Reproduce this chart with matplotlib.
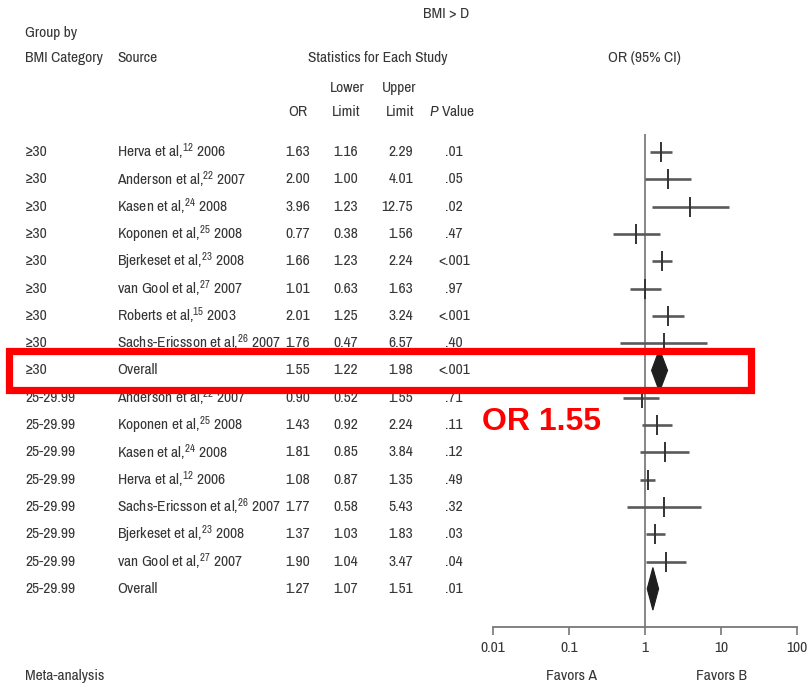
import matplotlib
matplotlib.use("Agg")
import matplotlib.pyplot as plt
import matplotlib.transforms as mtransforms
from matplotlib import font_manager
from matplotlib.patches import Polygon, Rectangle
import numpy as np

# ---------------- data ----------------
groups = ['≥30'] * 9 + ['25-29.99'] * 8
names = ['Herva et al,', 'Anderson et al,', 'Kasen et al,', 'Koponen et al,',
         'Bjerkeset et al,', 'van Gool et al,', 'Roberts et al,',
         'Sachs-Ericsson et al,', 'Overall',
         'Anderson et al,', 'Koponen et al,', 'Kasen et al,', 'Herva et al,',
         'Sachs-Ericsson et al,', 'Bjerkeset et al,', 'van Gool et al,', 'Overall']
refs = ['12', '22', '24', '25', '23', '27', '15', '26', '',
        '22', '25', '24', '12', '26', '23', '27', '']
years = ['2006', '2007', '2008', '2008', '2008', '2007', '2003', '2007', '',
         '2007', '2008', '2008', '2006', '2007', '2008', '2007', '']
or_vals = [1.63, 2.00, 3.96, 0.77, 1.66, 1.01, 2.01, 1.76, 1.55,
           0.90, 1.43, 1.81, 1.08, 1.77, 1.37, 1.90, 1.27]
lower = [1.16, 1.00, 1.23, 0.38, 1.23, 0.63, 1.25, 0.47, 1.22,
         0.52, 0.92, 0.85, 0.87, 0.58, 1.03, 1.04, 1.07]
upper = [2.29, 4.01, 12.75, 1.56, 2.24, 1.63, 3.24, 6.57, 1.98,
         1.55, 2.24, 3.84, 1.35, 5.43, 1.83, 3.47, 1.51]
pvals = ['.01', '.05', '.02', '.47', '<.001', '.97', '<.001', '.40', '<.001',
         '.71', '.11', '.12', '.49', '.32', '.03', '.04', '.01']
xticks = [0.01, 0.1, 1, 10, 100]
xticklabels = ['0.01', '0.1', '1', '10', '100']
highlight_row = 8

# ---------------- style ----------------
available = set(f.name for f in font_manager.fontManager.ttflist)
MAIN = 'Roboto Condensed'
for cand in ['Nimbus Sans Narrow', 'Archivo Narrow', 'Roboto Condensed']:
    if cand in available:
        MAIN = cand
        break
FONT = [MAIN, 'Roboto Condensed', 'Liberation Sans', 'DejaVu Sans']
plt.rcParams['font.family'] = FONT
plt.rcParams['mathtext.fontset'] = 'custom'
plt.rcParams['mathtext.rm'] = MAIN
plt.rcParams['mathtext.it'] = MAIN + ':italic'
plt.rcParams['mathtext.default'] = 'regular'
TXT = '#363636'
FS = 11.2

W, H = 807, 687
fig = plt.figure(figsize=(W / 100, H / 100), dpi=100)

def fx(px):
    return px / W

def fy(py):
    return 1 - py / H

# forest axes: x 493..797 px, y 134..627 px
n = len(or_vals)
row_top, row_step = 152, 27.3
ax_top, ax_bot = 134, 627
ax = fig.add_axes([fx(493), fy(ax_bot), fx(797) - fx(493), (ax_bot - ax_top) / H])
ax.set_xscale('log')
ax.set_xlim(0.01, 100)
ax.set_ylim((ax_bot - row_top) / row_step, (ax_top - row_top) / row_step)
for s in ['top', 'right', 'left']:
    ax.spines[s].set_visible(False)
ax.spines['bottom'].set_color('#777777')
ax.spines['bottom'].set_linewidth(1.3)
ax.set_yticks([])
ax.set_xticks(xticks)
ax.set_xticklabels(xticklabels)
ax.xaxis.set_minor_locator(matplotlib.ticker.NullLocator())
ax.tick_params(axis='x', direction='out', length=6, width=1.2, color='#777777',
               labelsize=FS, labelcolor=TXT, pad=4)
ax.patch.set_alpha(0)
ax.axvline(1, color='#666666', lw=1.1, zorder=1)

rows = np.arange(n)
for i in rows:
    if names[i] == 'Overall':
        h = 0.78
        poly = Polygon([(lower[i], i), (or_vals[i], i - h), (upper[i], i), (or_vals[i], i + h)],
                       closed=True, facecolor='#1e1e1e', edgecolor='#1e1e1e', lw=0.8, zorder=3)
        ax.add_patch(poly)
    else:
        ax.hlines(i, lower[i], upper[i], color='#5a5a5a', lw=1.9, zorder=2)
        ax.plot([or_vals[i]], [i], marker='|', ms=14.5, mew=1.4, color='#333333', zorder=3)

# table text in row coordinates
tr = mtransforms.blended_transform_factory(fig.transFigure, ax.transData)
for i in rows:
    kw = dict(transform=tr, va='center', fontsize=FS, color=TXT)
    fig.text(fx(25), i, groups[i], ha='left', **kw)
    if refs[i]:
        src = f'{names[i]}$^{{{refs[i]}}}$ {years[i]}'
    else:
        src = names[i]
    fig.text(fx(117), i, src, ha='left', **kw)
    fig.text(fx(310), i, f'{or_vals[i]:.2f}', ha='right', **kw)
    fig.text(fx(358), i, f'{lower[i]:.2f}', ha='right', **kw)
    fig.text(fx(413), i, f'{upper[i]:.2f}', ha='right', **kw)
    p = pvals[i]
    if p.startswith('<'):
        fig.text(fx(445.5), i, '<', ha='right', **kw)
        fig.text(fx(444.5), i, p[1:], ha='left', **kw)
    else:
        fig.text(fx(444.5), i, p, ha='left', **kw)

# headers
hk = dict(va='center', fontsize=FS, color=TXT)
fig.text(fx(446), fy(14), 'BMI > D', ha='center', **hk)
fig.text(fx(25), fy(33), 'Group by', ha='left', **hk)
fig.text(fx(25), fy(58), 'BMI Category', ha='left', **hk)
fig.text(fx(117), fy(58), 'Source', ha='left', **hk)
fig.text(fx(378), fy(58), 'Statistics for Each Study', ha='center', **hk)
fig.text(fx(644), fy(58), 'OR (95% CI)', ha='center', **hk)
fig.text(fx(347), fy(88), 'Lower', ha='center', **hk)
fig.text(fx(399), fy(88), 'Upper', ha='center', **hk)
fig.text(fx(298), fy(112), 'OR', ha='center', **hk)
fig.text(fx(346), fy(112), 'Limit', ha='center', **hk)
fig.text(fx(400), fy(112), 'Limit', ha='center', **hk)
fig.text(fx(429), fy(112), r'$\mathit{P}$ Value', ha='left', **hk)

# footer
fig.text(fx(25), fy(676), 'Meta-analysis', ha='left', **hk)
fig.text(fx(571), fy(676), 'Favors A', ha='center', **hk)
fig.text(fx(722), fy(676), 'Favors B', ha='center', **hk)

# highlight box around overall >=30
rect = Rectangle((fx(9), highlight_row - 0.70), fx(751) - fx(9), 1.43,
                 transform=tr, fill=False, edgecolor='#ff0000', lw=5.2, zorder=20)
fig.add_artist(rect)
fig.text(fx(482), fy(422), f'OR {or_vals[highlight_row]:.2f}', ha='left', va='center',
         fontsize=23, fontweight='bold', color='#ff0000', family=['Liberation Sans', 'DejaVu Sans'],
         zorder=21)

fig.savefig('out.png', dpi=100)
